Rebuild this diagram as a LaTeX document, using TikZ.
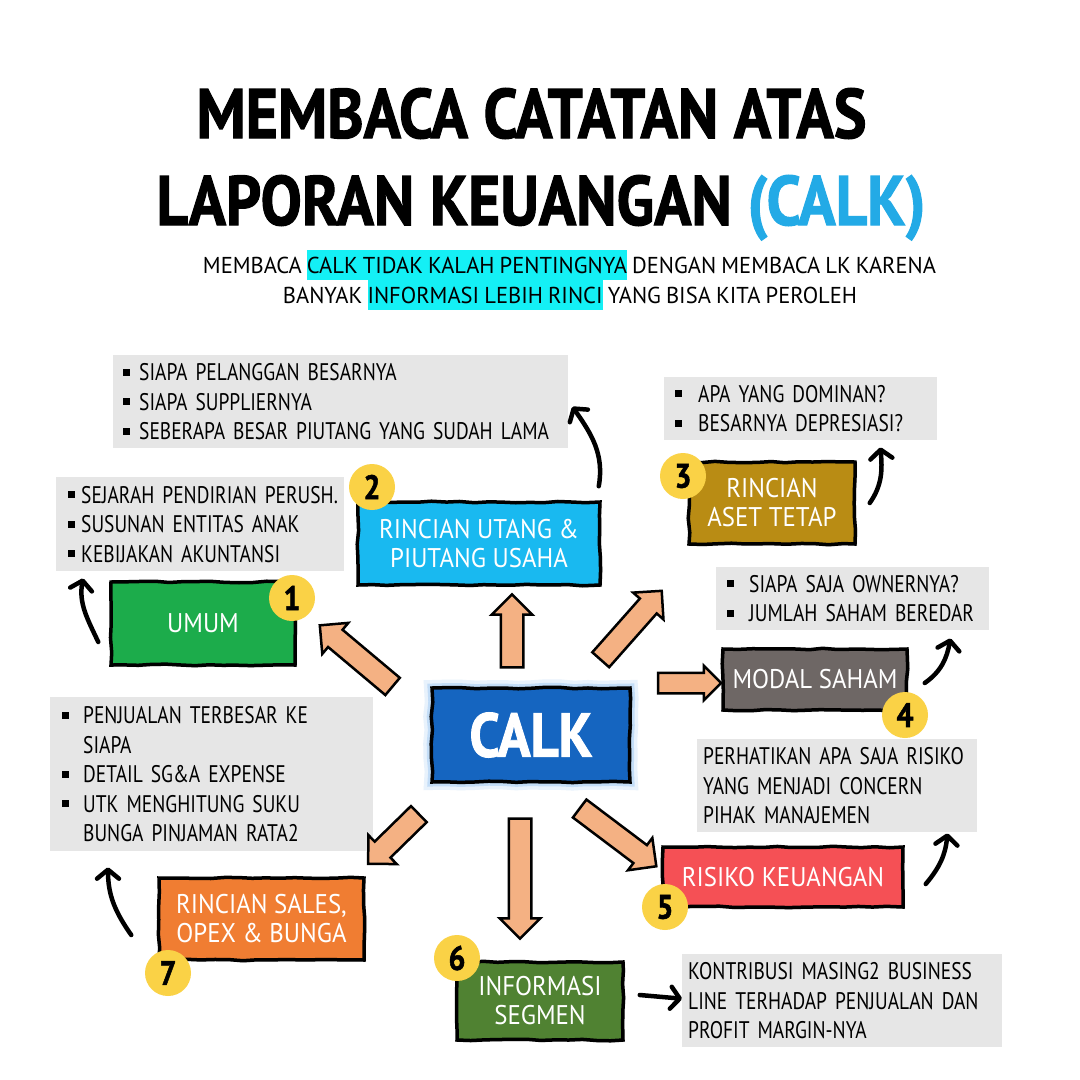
\documentclass[tikz,border=0pt]{standalone}
\usepackage{fontspec}
\setmainfont{PT Sans}
\newfontfamily\titlefont[FakeStretch=0.88, BoldFeatures={FakeBold=1.5}]{PT Sans}
\newfontfamily\bodyfont[FakeStretch=0.81, WordSpace=0.75]{PT Sans}
\newfontfamily\subfont[FakeStretch=0.98, WordSpace=0.85]{PT Sans}
\newfontfamily\labelfont[FakeStretch=0.92]{PT Sans}
\usepackage{xcolor}
\usetikzlibrary{positioning, arrows.meta, shapes.arrows, shadows, decorations.pathmorphing}

\definecolor{boxgray}{RGB}{230,230,230}
\definecolor{hlcyan}{RGB}{20,240,245}
\definecolor{titlecyan}{RGB}{35,170,230}
\definecolor{umumgreen}{RGB}{28,172,75}
\definecolor{utangblue}{RGB}{25,185,240}
\definecolor{asetgold}{RGB}{185,140,20}
\definecolor{modalgray}{RGB}{110,103,101}
\definecolor{risikored}{RGB}{245,80,85}
\definecolor{segmengreen}{RGB}{80,130,50}
\definecolor{salesorange}{RGB}{240,125,50}
\definecolor{calkblue}{RGB}{21,101,192}
\definecolor{glowblue}{RGB}{140,190,240}
\definecolor{peach}{RGB}{244,177,131}
\definecolor{badgeyellow}{RGB}{250,210,70}

\newcommand{\sqb}{\raisebox{5pt}{\rule{7pt}{7pt}}}
\newcommand{\itm}[2][16pt]{\mbox{\makebox[#1][l]{\sqb}#2}}
\newcommand{\txtline}[1]{\mbox{#1}}
\newcommand{\hlt}[1]{{\setlength{\fboxsep}{0pt}\colorbox{hlcyan}{\rule[-7pt]{0pt}{30pt}#1}}}

\begin{document}
\begin{tikzpicture}[
    x=1pt, y=-1pt,
    infobox/.style={fill=boxgray, anchor=north west, align=left, inner ysep=0pt,
        font=\bodyfont\fontsize{24}{29.5}\selectfont},
    labelbox/.style={draw=black, line width=3.5pt, text=white, align=center, inner sep=0pt,
        font=\labelfont\fontsize{27}{29}\selectfont,
        decorate, decoration={random steps, segment length=14pt, amplitude=0.8pt},
        drop shadow={opacity=0.25, shadow xshift=2pt, shadow yshift=-2pt}},
    badge/.style={circle, fill=badgeyellow, minimum size=46pt, inner sep=0pt,
        font=\titlefont\bfseries\fontsize{34}{34}\selectfont},
    fatarrow/.style={single arrow, draw=black, line width=2.5pt, fill=peach,
        inner xsep=0pt, inner ysep=10pt, single arrow head extend=9pt, single arrow head indent=0pt},
    handarrow/.style={line width=4.5pt, line cap=round,
        -{Straight Barb[length=9pt, width=22pt, line cap=round, line join=round]}}
]
\pgfmathsetseed{7}
\fill[white] (0,0) rectangle (1080,1080);
\useasboundingbox (0,0) rectangle (1080,1080);

% =============================
% 0. Title and subtitle
% =============================
\node[anchor=base, font=\titlefont\bfseries\fontsize{70}{80}\selectfont] (title1) at (531.5,138) {MEMBACA CATATAN ATAS};
\node[anchor=base, font=\titlefont\bfseries\fontsize{70}{80}\selectfont] (title2) at (541,225) {LAPORAN KEUANGAN \textcolor{titlecyan}{(CALK)}};

\node[anchor=base, font=\subfont\fontsize{23}{30}\selectfont] (sub1) at (569.5,273)
    {MEMBACA \hlt{CALK TIDAK KALAH PENTINGNYA} DENGAN MEMBACA LK KARENA};
\node[anchor=base, font=\subfont\fontsize{23}{30}\selectfont] (sub2) at (570,303)
    {BANYAK \hlt{INFORMASI LEBIH RINCI} YANG BISA KITA PEROLEH};

% =============================
% 1. Grey note boxes
% =============================
\node[infobox, inner xsep=10pt, text width=435pt, minimum height=93pt] (infoA) at (113,355)
    {\itm{SIAPA PELANGGAN BESARNYA}\\ \itm{SIAPA SUPPLIERNYA}\\ \itm{SEBERAPA BESAR PIUTANG YANG SUDAH LAMA}};
\node[infobox, inner xsep=12pt, text width=264pt, minimum height=94pt] (infoB) at (56,477)
    {\itm[13pt]{SEJARAH PENDIRIAN PERUSH.}\\ \itm[13pt]{SUSUNAN ENTITAS ANAK}\\ \itm[13pt]{KEBIJAKAN AKUNTANSI}};
\node[infobox, inner xsep=11pt, text width=251pt, minimum height=63pt] (infoC) at (664,377)
    {\itm[23pt]{APA YANG DOMINAN?}\\ \itm[23pt]{BESARNYA DEPRESIASI?}};
\node[infobox, inner xsep=11pt, text width=251pt, minimum height=63pt] (infoD) at (716,567)
    {\itm[22pt]{SIAPA SAJA OWNERNYA?}\\ \itm[22pt]{JUMLAH SAHAM BEREDAR}};
\node[infobox, inner xsep=6pt, text width=268pt, minimum height=93pt] (infoE) at (697,739)
    {\txtline{PERHATIKAN APA SAJA RISIKO}\\ \txtline{YANG MENJADI CONCERN}\\ \txtline{PIHAK MANAJEMEN}};
\node[infobox, inner xsep=12pt, text width=299pt, minimum height=154pt] (infoF) at (50,697)
    {\itm[21pt]{PENJUALAN TERBESAR KE}\\ \txtline{\hspace*{21pt}SIAPA}\\ \itm[21pt]{DETAIL SG\&A EXPENSE}\\
     \itm[21pt]{UTK MENGHITUNG SUKU}\\ \txtline{\hspace*{21pt}BUNGA PINJAMAN RATA2}};
\node[infobox, inner xsep=6pt, text width=308pt, minimum height=93pt] (infoG) at (682,954)
    {\txtline{KONTRIBUSI MASING2 BUSINESS}\\ \txtline{LINE TERHADAP PENJUALAN DAN}\\ \txtline{PROFIT MARGIN-NYA}};

% =============================
% 2. Centre and topic boxes
% =============================
\node[labelbox, fill=calkblue, minimum width=198pt, minimum height=94pt,
      font=\titlefont\bfseries\fontsize{62}{62}\selectfont,
      preaction={draw=glowblue, line width=16pt, opacity=0.2},
      preaction={draw=glowblue, line width=9pt, opacity=0.4}] (calk) at (531,735) {CALK};

\node[labelbox, fill=umumgreen, minimum width=184pt, minimum height=83pt] (umum) at (203,623.5) {UMUM};
\node[labelbox, fill=utangblue, minimum width=242pt, minimum height=83pt] (utang) at (479,543.5) {RINCIAN UTANG \&\\PIUTANG USAHA};
\node[labelbox, fill=asetgold, minimum width=166pt, minimum height=82pt] (aset) at (772,503) {RINCIAN\\ASET TETAP};
\node[labelbox, fill=modalgray, minimum width=184pt, minimum height=61pt] (modal) at (815,679.5) {MODAL SAHAM};
\node[labelbox, fill=risikored, minimum width=240pt, minimum height=60pt] (risiko) at (783,877) {RISIKO KEUANGAN};
\node[labelbox, fill=segmengreen, minimum width=166pt, minimum height=78pt] (segmen) at (540,1001) {INFORMASI\\SEGMEN};
\node[labelbox, fill=salesorange, minimum width=205pt, minimum height=82pt] (sales) at (261.5,919) {RINCIAN SALES,\\OPEX \& BUNGA};

% numbered badges
\node[badge] (n1) at (292,598) {1};
\node[badge] (n2) at (372,487) {2};
\node[badge] (n3) at (683,476) {3};
\node[badge] (n4) at (905,715) {4};
\node[badge] (n5) at (665,907) {5};
\node[badge] (n6) at (457,958) {6};
\node[badge] (n7) at (168,973) {7};

% =============================
% 3. Fat arrows out of CALK
% =============================
\node[fatarrow, minimum height=95pt, rotate=140] (toUmum) at (360.5,659.5) {};
\node[fatarrow, minimum height=73pt, rotate=90] (toUtang) at (512,636.5) {};
\node[fatarrow, minimum height=92pt, rotate=48.5] (toAset) at (627.5,629.5) {};
\node[fatarrow, minimum height=63pt, inner ysep=9pt, single arrow head extend=7pt] (toModal) at (684.5,683) {};
\node[fatarrow, minimum height=96pt, rotate=-37] (toRisiko) at (613.5,834) {};
\node[fatarrow, minimum height=120pt, rotate=-90] (toSegmen) at (520,873) {};
\node[fatarrow, minimum height=71pt, rotate=-135.6] (toSales) at (397.5,835) {};

% =============================
% 4. Hand drawn arrows to notes
% =============================
\draw[handarrow] ([xshift=-11pt, yshift=-18.5pt]umum.west) to[out=115, in=-100] ([xshift=27pt, yshift=-7pt]infoB.south west);
\draw[handarrow] ([xshift=-3pt, yshift=14pt]utang.north east) to[out=80, in=-55] ([xshift=4pt, yshift=-5pt]infoA.east);
\draw[handarrow] ([xshift=13pt]aset.east) to[out=55, in=-85] ([xshift=-57pt, yshift=-7pt]infoC.south east);
\draw[handarrow] ([xshift=16pt, yshift=-3.5pt]modal.east) to[out=35, in=-100] ([xshift=-39pt, yshift=-8pt]infoD.south east);
\draw[handarrow] ([xshift=21pt, yshift=-7pt]risiko.east) to[out=50, in=-95] ([xshift=-30pt, yshift=-1pt]infoE.south east);
\draw[handarrow] ([xshift=15pt, yshift=6pt]segmen.east) -- ([yshift=2pt]infoG.west);
\draw[handarrow] ([xshift=-26pt, yshift=-16pt]sales.west) to[out=125, in=-90] ([xshift=58pt, yshift=-16pt]infoF.south west);
\end{tikzpicture}
\end{document}
